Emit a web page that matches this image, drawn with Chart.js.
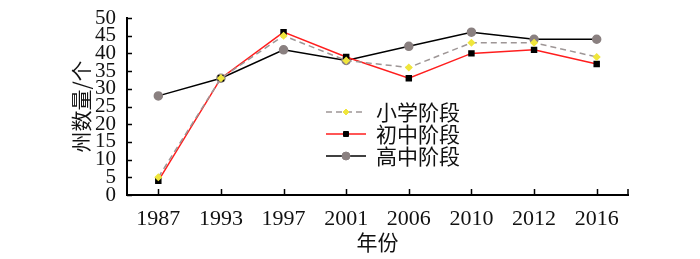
<!DOCTYPE html>
<html>
<head>
<meta charset="utf-8">
<script src="https://cdn.jsdelivr.net/npm/chart.js@4"></script>
<style>
  html, body { margin: 0; padding: 0; background: #fff; }
  #wrap { width: 700px; height: 259px; }
</style>
</head>
<body>
<div id="wrap"><canvas id="c" width="700" height="259"></canvas></div>
<script>
// 数据
const years = ['1987', '1993', '1997', '2001', '2006', '2010', '2012', '2016'];
const primary = [5, 33, 45, 38, 36, 43, 43, 39];
const junior = [4, 33, 46, 39, 33, 40, 41, 37];
const senior = [28, 33, 41, 38, 42, 46, 44, 44];
const yTicks = [0, 5, 10, 15, 20, 25, 30, 35, 40, 45, 50];

const serif = '"Liberation Serif", "DejaVu Serif", serif';
const cjk = '"Noto Sans CJK SC", sans-serif';

// 向内的刻度线
const innerTicks = {
  id: 'innerTicks',
  afterDraw(chart) {
    const c = chart.ctx, a = chart.chartArea;
    const x = chart.scales.x, y = chart.scales.y;
    c.save();
    c.strokeStyle = '#000';
    c.lineWidth = 1.5;
    c.beginPath();
    yTicks.forEach(v => {
      const py = Math.round(y.getPixelForValue(v)) + 0.5;
      c.moveTo(a.left, py);
      c.lineTo(a.left + 5, py);
    });
    years.forEach((_, i) => {
      const px = Math.round(x.getPixelForValue(i)) + 0.5;
      c.moveTo(px, a.bottom);
      c.lineTo(px, a.bottom - 6);
    });
    c.moveTo(a.right, a.bottom);
    c.lineTo(a.right, a.bottom - 6);
    c.stroke();
    c.restore();
  }
};

// 图例画在绘图区内
const innerLegend = {
  id: 'innerLegend',
  afterDraw(chart) {
    const c = chart.ctx;
    const x0 = 326, x1 = 366, tx = 376;
    const rows = [112, 134, 156];
    c.save();
    chart.data.datasets.forEach((ds, i) => {
      const y = rows[i];
      c.strokeStyle = ds.borderColor;
      c.lineWidth = ds.borderWidth;
      c.setLineDash(ds.borderDash || []);
      c.beginPath();
      c.moveTo(x0, y);
      c.lineTo(x1, y);
      c.stroke();
      c.setLineDash([]);
      c.fillStyle = ds.pointBackgroundColor;
      c.strokeStyle = ds.pointBorderColor;
      c.lineWidth = 1;
      Chart.helpers.drawPoint(c, {
        pointStyle: ds.pointStyle,
        radius: ds.pointRadius,
        borderWidth: 1
      }, (x0 + x1) / 2, y);
      c.fillStyle = '#111';
      c.font = '21px ' + cjk;
      c.textBaseline = 'middle';
      c.textAlign = 'left';
      c.fillText(ds.label, tx, y);
    });
    c.restore();
  }
};

new Chart(document.getElementById('c').getContext('2d'), {
  type: 'line',
  data: {
    labels: years,
    datasets: [{
      label: '小学阶段',
      data: primary,
      borderColor: '#9e9696',
      borderWidth: 1.5,
      borderDash: [6, 4],
      pointStyle: 'rectRot',
      pointRadius: 3,
      pointBackgroundColor: '#f0e63c',
      pointBorderColor: '#f0e63c',
      tension: 0
    }, {
      label: '初中阶段',
      data: junior,
      borderColor: '#ff1e1e',
      borderWidth: 1.5,
      pointStyle: 'rect',
      pointRadius: 3.5,
      pointBackgroundColor: '#000',
      pointBorderColor: '#000',
      tension: 0
    }, {
      label: '高中阶段',
      data: senior,
      borderColor: '#000',
      borderWidth: 1.5,
      pointStyle: 'circle',
      pointRadius: 4,
      pointBackgroundColor: '#8a8080',
      pointBorderColor: '#8a8080',
      tension: 0
    }]
  },
  options: {
    responsive: false,
    animation: false,
    layout: { padding: { top: 18, right: 72, left: 68, bottom: 4 } },
    plugins: {
      legend: { display: false },
      tooltip: { enabled: false }
    },
    scales: {
      x: {
        offset: true,
        grid: { display: false },
        border: { display: true, color: '#000', width: 2 },
        ticks: { color: '#111', font: { family: serif, size: 22 }, padding: 3, maxRotation: 0, autoSkip: false },
        title: { display: true, text: '年份', color: '#111', font: { family: cjk, size: 21 }, padding: { top: 0, bottom: 0 } },
        afterFit: s => { s.height = 60; }
      },
      y: {
        min: 0,
        max: 50,
        grid: { display: false },
        border: { display: true, color: '#000', width: 2 },
        afterBuildTicks: s => { s.ticks = yTicks.map(v => ({ value: v })); },
        ticks: { color: '#111', font: { family: serif, size: 21, lineHeight: 1 }, padding: 3, autoSkip: false },
        title: { display: true, text: '州数量/个', color: '#111', font: { family: cjk, size: 21 }, padding: { top: 0, bottom: 0 } },
        afterFit: s => { s.width = 59; }
      }
    }
  },
  plugins: [innerTicks, innerLegend]
});
</script>
</body>
</html>
